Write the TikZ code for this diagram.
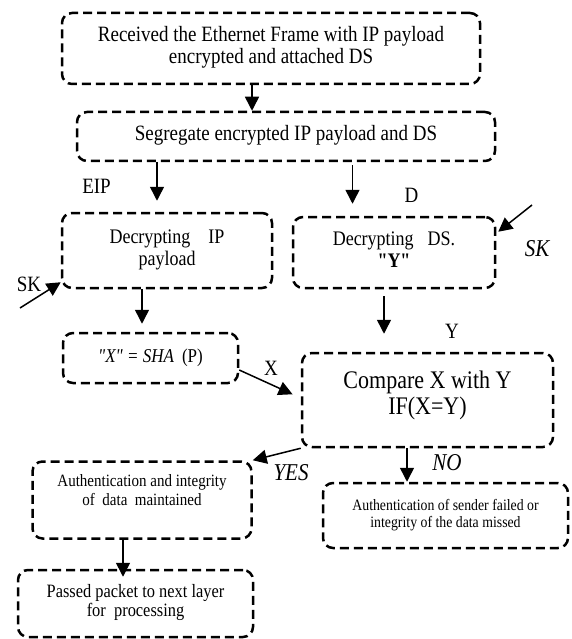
\documentclass[tikz,border=0pt]{standalone}
\usepackage{fontspec}
\usepackage{graphicx}
\setmainfont{Liberation Serif}
\usetikzlibrary{arrows.meta,calc}
\newcommand\myfs[2]{\fontsize{#1}{#2}\selectfont}
\newcommand\vst[1]{\scalebox{1}[1.15]{\begin{tabular}{@{}c@{}}#1\end{tabular}}}
\begin{document}
\begin{tikzpicture}[x=1pt,y=-1pt,
  box/.style={draw, line width=2.5pt, dash pattern=on 9pt off 5pt, rounded corners=10pt, align=center, inner sep=0pt},
  txt/.style={align=center, inner sep=0pt},
  arr/.style={line width=1.5pt, -{Triangle[length=14pt,width=14pt]}},
  lab/.style={inner sep=0pt, font=\myfs{19}{22}},
  ilab/.style={inner sep=0pt, font=\myfs{21}{24}\itshape}]
\useasboundingbox (0,0) rectangle (571,639);

% boxes
\node[box, minimum width=418pt, minimum height=71pt, font=\myfs{19}{19.1}] (recv) at (271,48.5)
  {\vst{Received the Ethernet Frame with IP payload\\encrypted and attached DS}};
\node[box, minimum width=418pt, minimum height=49pt, font=\myfs{19}{19.1}] (seg) at (286,136.5)
  {\vst{Segregate encrypted IP payload and DS}};
\node[box, minimum width=210pt, minimum height=75pt, font=\myfs{18}{19.1}] (dip) at (167,250.5)
  {\vst{Decrypting\hspace{18pt}IP\\payload}};
\node[box, minimum width=202pt, minimum height=71pt, font=\myfs{18}{19.1}] (dds) at (394,252.5)
  {\vst{Decrypting\hspace{14pt}DS.\\\textbf{\textquotedbl Y\textquotedbl}}};
\node[box, minimum width=175pt, minimum height=50pt, font=\myfs{17}{18}] (sha) at (150.5,358)
  {\vst{{\itshape \textquotedbl X\textquotedbl\ = SHA}\hspace{8pt}(P)}};
\node[box, minimum width=251pt, minimum height=94pt] (cmp) at (427.5,400) {};
\node[txt, font=\myfs{22}{22.6}] (cmptext) at ($(cmp.center)+(0,-4)$) {\vst{Compare X with Y\\IF(X=Y)}};
\node[box, minimum width=219pt, minimum height=77pt] (authL) at (142,500) {};
\node[txt, font=\myfs{15}{16.5}] (authLtext) at ($(authL.center)+(0,-7.5)$)
  {\vst{Authentication and integrity\\of\ \ data\ \ maintained}};
\node[box, minimum width=245pt, minimum height=65pt, font=\myfs{13.8}{14.8}] (authF) at (445.5,515.5)
  {\vst{Authentication of sender failed or\\integrity of the data missed}};
\node[box, minimum width=235pt, minimum height=67pt, font=\myfs{16.4}{15.7}] (passed) at (135.5,603.5)
  {\vst{Passed packet to next layer\\for\ \ processing}};

% helper coordinates
\coordinate (xa) at (252,0);
\coordinate (xb) at (157,0);
\coordinate (xc) at (352.5,0);
\coordinate (xd) at (142,0);
\coordinate (xe) at (384,0);
\coordinate (xf) at (407,0);
\coordinate (xg) at (123,0);
\coordinate (skl) at (20,308);
\coordinate (skr) at (532,205);

% connectors
\draw[arr] (recv.south -| xa) -- (seg.north -| xa);
\draw[arr, shorten >=11pt] (seg.south -| xb) -- (dip.north -| xb);
\draw[arr, shorten <=3pt, shorten >=12pt] (seg.south -| xc) -- (dds.north -| xc);
\draw[arr] (skl) -- ($(dip.south west)+(0,-7)$);
\draw[arr] (skr) -- ($(dds.north east)+(2,16)$);
\draw[arr, shorten >=8pt] (dip.south -| xd) -- (sha.north -| xd);
\draw[arr, shorten <=7pt, shorten >=18pt] (dds.south -| xe) -- (cmp.north -| xe);
\draw[arr, shorten >=9pt] ($(sha.east)+(0,12)$) -- ($(cmp.west)+(0,-2)$);
\draw[arr] (cmp.south west) -- (authL.north east);
\draw[arr] (cmp.south -| xf) -- (authF.north -| xf);
\draw[arr, shorten >=-8pt] (authL.south -| xg) -- (passed.north -| xg);

% labels
\node[lab] (eip) at (96.5,188) {\vst{EIP}};
\node[lab] (dlab) at (411.5,197) {\vst{D}};
\node[lab] (skltxt) at (29,286) {\vst{SK}};
\node[ilab] (skrtxt) at (537,251) {\vst{SK}};
\node[lab] (ylab) at (452,333) {\vst{Y}};
\node[lab] (xlab) at (271,370) {\vst{X}};
\node[ilab] (yes) at (291,475) {\vst{YES}};
\node[ilab] (no) at (447,465) {\vst{NO}};
\end{tikzpicture}
\end{document}
